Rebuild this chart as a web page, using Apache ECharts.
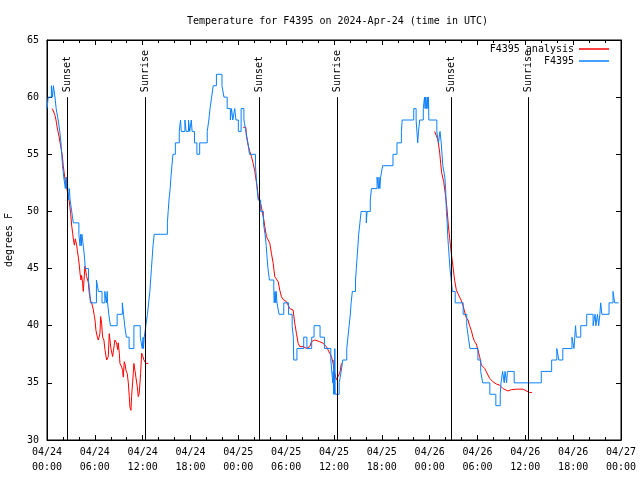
<!DOCTYPE html>
<html><head><meta charset="utf-8">
<script src="https://cdn.jsdelivr.net/npm/echarts@6/dist/echarts.min.js"></script>
<style>html,body{margin:0;padding:0;background:#fff}#c{width:640px;height:480px}</style>
</head><body><div id="c"></div>
<script>
// Hours since 2024-04-24 00:00 UTC, temperature in degrees F
const titleText = 'Temperature for F4395 on 2024-Apr-24 (time in UTC)';
const yName = 'degrees F';
const seriesNames = ['F4395 analysis', 'F4395'];
const eventHours = [2.55, 12.33, 26.64, 36.4, 50.7, 60.4];
const eventLabels = ['Sunset', 'Sunrise', 'Sunset', 'Sunrise', 'Sunset', 'Sunrise'];

const observed = [
[0,59],[0.15,60],[0.55,61],[0.7,60],[0.8,61],[1.0,60],[1.15,59],[1.4,58],[1.6,57],[1.75,56],[1.85,55],[1.95,54],[2.1,53],[2.3,52],[2.4,53],[2.45,52],[2.55,53],[2.6,52],[2.7,51],[2.8,52],[2.9,51],[3.1,50],[3.3,49],[4.0,48],[4.14,47],[4.22,48],[4.3,47],[4.38,48],[4.55,47],[4.7,46],[4.8,45],[5.2,44],[5.35,43],[5.45,42],[6.2,44],[6.45,43],[6.9,42],[7.25,43],[7.45,42],[7.55,43],[7.6,42],[7.75,41],[7.95,40],[8.8,41],[9.45,42],[9.6,41],[9.75,40],[9.95,39],[10.3,38],[10.9,40],[11.7,39],[11.95,38],[12.05,39],[12.1,38],[12.2,39],[12.4,40],[12.6,41],[12.75,42],[12.9,43],[13.0,44],[13.1,45],[13.2,46],[13.3,47],[13.45,48],
[15.1,49],[15.2,50],[15.3,51],[15.45,52],[15.55,53],[15.67,54],[15.8,55],[16.1,56],[16.59,57],[16.75,58],[16.84,57],[17.3,58],[17.45,57],[17.75,58],[17.9,57],[18.1,58],[18.2,57],[18.5,56],[18.8,55],[19.15,56],[20.1,57],[20.3,58],[20.45,59],[20.65,60],[20.85,61],[21.25,62],[21.95,61],[22.2,60],[22.6,59],[23.0,58],[23.15,59],[23.3,58],[23.55,59],[23.7,58],[24.0,57],[24.35,59],
[24.7,58],[24.95,57],[25.2,56],[25.4,55],[26.15,54],[26.25,53],[26.35,52],[26.5,51],[26.8,50],[27.15,49],[27.35,48],[27.5,47],[27.6,46],[27.72,45],[27.9,44],[28.45,43],[28.5,42],[28.6,43],[28.7,42],[28.75,43],[28.85,42],[29.1,41],[29.7,42],[30.3,41],[30.75,40],[30.9,39],[30.95,37],[31.35,38],[32.2,39],[32.6,38],[33.2,39],[33.5,40],[34.25,39],[34.8,38],[35.6,37],[35.85,35],[35.9,36],[35.95,34],[36.0,37],[36.05,34],[36.1,38],[36.15,34],[36.65,35],[36.9,36],[37.1,37],[37.6,38],[37.75,39],[37.9,40],[38.05,41],[38.15,42],[38.3,43],[38.7,44],[38.8,45],[38.9,46],[39.0,47],[39.1,48],[39.25,49],[39.4,50],[40.05,49],[40.15,50],[40.55,51],[40.7,52],[41.4,53],[41.6,52],[41.65,53],[41.75,52],[41.85,53],[42.1,54],[43.4,55],[43.9,56],[44.45,57],[44.55,58],[46.0,59],[46.3,58],[46.5,56],[46.6,57],[46.75,58],[47.2,59],[47.35,60],[47.42,59],[47.5,60],[47.6,59],[47.7,60],[47.78,59],[47.85,60],[47.9,58],
[48.9,57],[49.1,56],[49.3,57],[49.45,56],[49.55,55],[49.65,54],[49.9,53],[50.0,52],[50.05,51],[50.1,50],[50.2,49],[50.25,48],[50.35,47],[50.45,46],[50.55,45],[50.7,44],[50.85,43],[51.2,42],[52.2,41],[52.65,40],[52.85,39],[53.05,38],[54.05,37],[54.4,36],[54.65,35],[55.55,34],[56.3,33],[56.85,34],[56.95,35],[57.15,36],[57.35,35],[57.45,36],[57.65,35],[57.75,36],[58.6,35],[62.0,36],[63.3,37],[63.95,38],[64.2,37],[64.7,38],[65.85,39],[66.1,38],[66.2,39],[66.3,40],[66.4,39],[66.95,40],[67.7,41],[68.5,40],[68.75,41],[68.85,40],[69.05,41],[69.2,40],[69.35,41],[69.45,42],[69.6,41],[70.5,42],[71.0,43],[71.2,42],[71.7,42]
];

const analysis1 = [[0.66,59.0],[0.85,58.7],[1.0,58.4],[1.13,58.0],[1.29,57.3],[1.5,56.6],[1.72,55.7],[1.92,54.9],[2.04,54.0],[2.26,52.8],[2.47,52.1],[2.67,51.3],[2.8,50.85],[2.97,49.8],[3.09,48.8],[3.22,48.1],[3.3,47.6],[3.43,47.05],[3.55,47.6],[3.72,47.05],[3.8,46.6],[3.93,46.0],[4.05,45.3],[4.14,44.6],[4.26,44.0],[4.34,44.4],[4.47,43.7],[4.55,43.0],[4.76,45.2],[4.89,45.3],[4.97,44.3],[5.18,43.8],[5.31,42.8],[5.47,42.2],[5.6,42.0],[5.81,41.4],[5.93,40.9],[6.02,40.5],[6.14,39.6],[6.31,39.0],[6.43,38.75],[6.64,39.3],[6.73,40.8],[6.85,40.2],[6.98,39.0],[7.14,38.75],[7.27,37.9],[7.48,37.0],[7.69,37.3],[7.81,39.3],[7.9,38.75],[8.02,38.0],[8.23,37.3],[8.31,37.7],[8.52,38.75],[8.73,38.5],[8.86,37.9],[8.94,38.5],[9.07,37.6],[9.15,36.7],[9.36,36.4],[9.48,36.1],[9.57,35.5],[9.69,36.85],[9.82,36.55],[9.9,36.1],[10.07,35.8],[10.2,35.0],[10.32,33.8],[10.4,32.9],[10.53,32.6],[10.61,33.8],[10.74,35.0],[10.82,35.8],[10.9,36.7],[11.03,36.1],[11.15,35.5],[11.32,34.7],[11.45,33.8],[11.57,34.1],[11.66,35.0],[11.74,35.8],[11.87,37.6],[11.99,37.4],[12.16,37.0],[12.41,36.7],[12.7,36.7]];

const analysis2 = [[24.61,57.36],[24.94,57.36],[25.02,56.54],[25.23,55.81],[25.44,55.23],[25.65,54.79],[25.86,54.21],[26.07,53.48],[26.19,52.9],[26.36,52.17],[26.49,51.29],[26.61,51.0],[26.78,50.71],[26.9,50.42],[27.03,49.83],[27.2,49.25],[27.32,48.67],[27.53,47.79],[27.74,47.5],[27.95,47.2],[28.16,46.3],[28.37,45.46],[28.57,44.29],[28.78,44.15],[29.0,43.85],[29.2,43.1],[29.41,42.54],[29.62,42.3],[29.83,42.25],[30.04,42.1],[30.24,41.96],[30.45,41.5],[30.66,41.37],[30.87,41.37],[31.08,40.2],[31.29,39.33],[31.5,38.46],[31.71,38.17],[32.13,38.17],[32.54,38.02],[32.96,38.17],[33.17,38.6],[33.59,38.75],[34.21,38.6],[34.63,38.46],[35.05,38.17],[35.26,38.02],[35.47,37.58],[35.68,37.3],[35.88,36.71],[36.09,35.85],[36.3,35.27],[36.51,35.12],[36.72,35.85],[36.8,36.14],[36.93,36.71]];

const analysis3 = [[48.63,57.0],[48.83,56.83],[49.04,56.25],[49.25,55.2],[49.38,54.21],[49.5,53.39],[49.76,52.6],[50.01,51.29],[50.17,50.27],[50.34,48.8],[50.51,47.63],[50.72,46.3],[50.93,45.14],[51.13,43.97],[51.34,43.15],[51.55,42.8],[51.76,42.5],[51.97,42.2],[52.18,41.78],[52.39,41.2],[52.6,40.7],[52.81,40.5],[53.01,40.0],[53.22,39.6],[53.43,39.0],[53.64,38.6],[53.85,38.4],[54.06,37.87],[54.27,37.29],[54.48,36.56],[54.68,36.42],[54.89,36.27],[55.1,35.98],[55.31,35.69],[55.52,35.4],[55.73,35.25],[55.94,35.1],[56.36,34.9],[56.77,34.81],[56.98,34.66],[57.19,34.5],[57.4,34.37],[57.82,34.29],[58.24,34.4],[58.87,34.45],[59.7,34.45],[60.12,34.3],[60.53,34.16],[60.83,34.16]];

const FONT = 'DejaVu Sans Mono';
const RED = '#ff0000', BLUE = '#0a80ff';

function fmtX(h) {
  const d = 24 + Math.floor(h / 24);
  const hh = h % 24;
  return '04/' + d + '\n' + String(hh).padStart(2, '0') + ':00';
}

const baseX = {
  type: 'value', min: 0, max: 72, interval: 6,
  axisLine: { show: true, onZero: false, lineStyle: { color: '#000', width: 1 } },
  axisTick: { show: true, inside: true, length: 5, lineStyle: { color: '#000' } },
  minorTick: { show: true, splitNumber: 3, length: 3, lineStyle: { color: '#000' } },
  splitLine: { show: false }
};
const baseY = {
  type: 'value', min: 30, max: 65, interval: 5,
  axisLine: { show: true, onZero: false, lineStyle: { color: '#000', width: 1 } },
  axisTick: { show: true, inside: true, length: 5, lineStyle: { color: '#000' } },
  splitLine: { show: false }
};

function redSeries(data) {
  return { name: seriesNames[0], type: 'line', data: data, showSymbol: false, symbol: 'none',
    lineStyle: { color: RED, width: 1 }, itemStyle: { color: RED }, z: 2, animation: false };
}

const chart = echarts.init(document.getElementById('c'), null, { renderer: 'canvas' });
chart.setOption({
  animation: false,
  backgroundColor: '#fff',
  title: { text: titleText, left: 182, top: 11,
    textStyle: { fontFamily: FONT, fontSize: 10, fontWeight: 'normal', color: '#000' } },
  legend: [
    { data: [seriesNames[0]], right: 31, top: 44, align: 'right', icon: 'rect', itemWidth: 30, itemHeight: 1.5,
      textStyle: { fontFamily: FONT, fontSize: 10, color: '#000' }, padding: 0, selectedMode: false },
    { data: [seriesNames[1]], right: 31, top: 56, align: 'right', icon: 'rect', itemWidth: 30, itemHeight: 1.5,
      textStyle: { fontFamily: FONT, fontSize: 10, color: '#000' }, padding: 0, selectedMode: false }
  ],
  grid: { left: 47, right: 19, top: 40, bottom: 40, containLabel: false, outerBoundsMode: 'none',
    show: true, borderColor: '#000', borderWidth: 1, backgroundColor: 'transparent' },
  xAxis: [
    Object.assign({}, baseX, { position: 'bottom',
      axisLabel: { formatter: fmtX, fontFamily: FONT, fontSize: 10, color: '#000', lineHeight: 15, margin: 5 } }),
    Object.assign({}, baseX, { position: 'top', axisLabel: { show: false } })
  ],
  yAxis: [
    Object.assign({}, baseY, { position: 'left', name: yName, nameLocation: 'middle', nameGap: 33,
      nameTextStyle: { fontFamily: FONT, fontSize: 10, color: '#000' },
      axisLabel: { fontFamily: FONT, fontSize: 10, color: '#000', margin: 8 } }),
    Object.assign({}, baseY, { position: 'right', axisLabel: { show: false } })
  ],
  series: [
    redSeries(analysis1), redSeries(analysis2), redSeries(analysis3),
    { name: seriesNames[1], type: 'line', data: observed, step: 'end', showSymbol: false, symbol: 'none',
      lineStyle: { color: BLUE, width: 1 }, itemStyle: { color: BLUE }, z: 3 },
    { name: 'events', type: 'line', data: [], z: 5,
      markLine: { silent: true, symbol: ['none', 'none'], animation: false,
        lineStyle: { color: '#000', width: 1, type: 'solid' }, label: { show: false },
        data: eventHours.map(h => [{ coord: [h, 30] }, { coord: [h, 60] }]) },
      markPoint: { silent: true, symbol: 'circle', symbolSize: 0, animation: false,
        label: { show: true, formatter: '{b}', position: 'top', distance: 5, rotate: 90,
          align: 'left', verticalAlign: 'middle', fontFamily: FONT, fontSize: 10, color: '#000' },
        data: eventHours.map((h, i) => ({ name: eventLabels[i], coord: [h, 60] })) }
    }
  ]
});
</script>
</body></html>
